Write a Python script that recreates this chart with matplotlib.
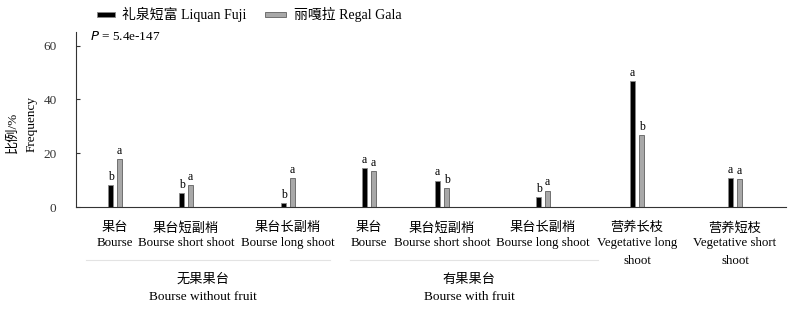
import matplotlib
matplotlib.use("Agg")
import matplotlib.pyplot as plt
from matplotlib.patches import Rectangle
from matplotlib.lines import Line2D

plt.rcParams['font.family'] = ['Liberation Serif', 'Noto Sans CJK SC', 'DejaVu Sans']

categories_cn = ["果台", "果台短副梢", "果台长副梢", "果台", "果台短副梢", "果台长副梢", "营养长枝", "营养短枝"]
categories_en = ["Bourse", "Bourse short shoot", "Bourse long shoot", "Bourse", "Bourse short shoot",
                 "Bourse long shoot", "Vegetative long\nshoot", "Vegetative short\nshoot"]
fuji = [8.2, 5.1, 1.4, 14.4, 9.8, 3.7, 46.7, 10.8]
gala = [17.9, 8.2, 10.9, 13.2, 7.1, 6.1, 26.8, 10.4]
fuji_letters = ["b", "b", "b", "a", "a", "b", "a", "a"]
gala_letters = ["a", "a", "a", "a", "b", "a", "b", "a"]
groups_cn = ["无果果台", "有果果台"]
groups_en = ["Bourse without fruit", "Bourse with fruit"]
legend_labels = ["礼泉短富 Liquan Fuji", "丽嘎拉 Regal Gala"]
yticks = [0, 20, 40, 60]

# layout (pixel-like x units from left spine)
pos = [39, 110, 212, 293, 366, 467, 561, 659]
off = 4.5
bw = 5

fig = plt.figure(figsize=(8, 3.18), dpi=100)
ax = fig.add_axes([0.095, 0.349, 0.8875, 0.55])
ax.set_xlim(0, 710)
ax.set_ylim(0, 65)

for i, p in enumerate(pos):
    ax.bar(p - off, fuji[i], width=bw, color='black', edgecolor='#888888', linewidth=0.6)
    ax.bar(p + off, gala[i], width=bw, color='#a8a8a8', edgecolor='#606060', linewidth=0.6)
    ax.text(p - off, fuji[i] + 0.8, fuji_letters[i], ha='center', va='bottom', fontsize=8.5)
    ax.text(p + off, gala[i] + 0.8, gala_letters[i], ha='center', va='bottom', fontsize=8.5)

ax.spines['top'].set_visible(False)
ax.spines['right'].set_visible(False)
ax.spines['left'].set_color('#333333')
ax.spines['bottom'].set_color('#333333')
ax.set_xticks([])
ax.set_yticks(yticks)
ax.tick_params(axis='y', direction='in', length=3, labelsize=9.5, colors='#333333', pad=14)

ax.text(14, 63.5, "$P$ = 5.4e-147", fontsize=9.5, va='center', ha='left')

# category labels
for i, p in enumerate(pos):
    ax.text(p, -7.8, categories_cn[i], ha='center', va='center', fontsize=9.5, clip_on=False)
    ax.text(p, -11.3, categories_en[i], ha='center', va='top', fontsize=9.3, linespacing=1.6, clip_on=False)

# group separators and labels
for (x0, x1), gcn, gen in zip([(10, 254), (274, 522)], groups_cn, groups_en):
    ax.add_line(Line2D([x0, x1], [-19.7, -19.7], color='#e3e3e3', lw=0.8, clip_on=False))
    xc = (x0 + x1) / 2 - 5
    ax.text(xc, -27.1, gcn, ha='center', va='center', fontsize=9.5, clip_on=False)
    ax.text(xc, -33.5, gen, ha='center', va='center', fontsize=9.5, clip_on=False)

# y labels
fig.text(0.016, 0.585, "比例/%", rotation=90, ha='center', va='center', fontsize=9.5)
fig.text(0.040, 0.61, "Frequency", rotation=90, ha='center', va='center', fontsize=9.5)

# legend
fig.patches.append(Rectangle((0.121, 0.947), 0.023, 0.016, transform=fig.transFigure, facecolor='black', edgecolor='#888888', lw=0.6))
fig.text(0.152, 0.955, legend_labels[0], ha='left', va='center', fontsize=10)
fig.patches.append(Rectangle((0.331, 0.947), 0.027, 0.016, transform=fig.transFigure, facecolor='#a8a8a8', edgecolor='#606060', lw=0.6))
fig.text(0.367, 0.955, legend_labels[1], ha='left', va='center', fontsize=10)

fig.savefig("out.png", dpi=100)
